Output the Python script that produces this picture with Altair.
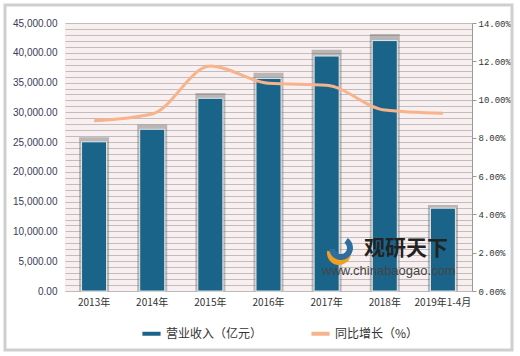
import altair as alt
import pandas as pd

years = ["2013年", "2014年", "2015年", "2016年", "2017年", "2018年", "2019年1-4月"]
revenue = [25050, 27150, 32350, 35700, 39450, 42050, 13900]
growth = [0.0890, 0.0925, 0.1175, 0.1085, 0.1075, 0.0945, 0.0928]
series_names = ["营业收入（亿元）", "同比增长（%）"]

df = pd.DataFrame({"year": years, "revenue": revenue, "growth": growth})
df["s_bar"] = series_names[0]
df["s_line"] = series_names[1]

BAR = "#1b6489"
LINE = "#f6b38c"

x_enc = alt.X("year:N", sort=years, title=None,
              scale=alt.Scale(paddingInner=0.57, paddingOuter=0.285),
              axis=alt.Axis(labelAngle=0, labelFontSize=10, labelColor="#333333",
                            domainColor="#bbbbbb", ticks=False, labelPadding=6,
                            labelFont="Noto Sans CJK SC"))

color_scale = alt.Scale(domain=series_names, range=[BAR, LINE])

left_axis = alt.Axis(values=list(range(0, 45001, 1000)),
                     labelExpr="datum.value % 5000 === 0 ? format(datum.value, ',.2f') : ''",
                     grid=True, gridColor="#c4bcbc", gridWidth=1, ticks=False,
                     domain=False, labelFontSize=10, labelColor="#3a3a5a",
                     labelPadding=8, labelFont="Liberation Sans")
left_scale = alt.Scale(domain=[0, 45000])

base = alt.Chart(df)

shadow = base.mark_bar(color="#6e6e6e", opacity=0.45, width=30).encode(
    x=x_enc,
    y=alt.Y("shadow_top:Q", title=None, scale=left_scale, axis=left_axis),
    y2=alt.value(268),
).transform_calculate(shadow_top="datum.revenue*1.02+250")

bars = base.mark_bar(width=25, stroke="white", strokeWidth=0.8).encode(
    x=x_enc,
    y=alt.Y("revenue:Q", title=None, scale=left_scale, axis=left_axis),
    color=alt.Color("s_bar:N", scale=color_scale,
                    legend=alt.Legend(title=None, orient="none", direction="horizontal",
                                      legendX=75, legendY=299, symbolType="stroke",
                                      symbolStrokeWidth=4, symbolSize=330,
                                      labelFontSize=12, labelColor="#333333",
                                      labelFont="Noto Sans CJK SC", columnPadding=40,
                                      symbolOffset=0, labelOffset=3)),
)

left = alt.layer(shadow, bars)

line = base.mark_line(strokeWidth=3, interpolate="monotone").encode(
    x=x_enc,
    y=alt.Y("growth:Q", title=None, scale=alt.Scale(domain=[0, 0.14]),
            axis=alt.Axis(orient="right", values=[0, 0.02, 0.04, 0.06, 0.08, 0.10, 0.12, 0.14],
                          format=".2%", grid=False, ticks=True, tickSize=4,
                          tickColor="#999999", domainColor="#999999",
                          labelFontSize=9, labelColor="#333333", labelPadding=2,
                          labelFont="Liberation Mono")),
    color=alt.Color("s_line:N", scale=color_scale, legend=None),
)

wm = alt.Chart(pd.DataFrame({"t": ["观研天下"]})).mark_text(
    fontSize=21, fontWeight="bold", color="#222222", font="Noto Sans CJK SC", align="left"
).encode(x=alt.value(299), y=alt.value(226), text="t:N")

wm2 = alt.Chart(pd.DataFrame({"t": ["www.chinabaogao.com"]})).mark_text(
    fontSize=13, color="#444444", font="Liberation Sans", align="left"
).encode(x=alt.value(257), y=alt.value(248), text="t:N")

logo1 = alt.Chart(pd.DataFrame({"t": [1]})).mark_arc(
    color="#2e6e9e", radius=12, radius2=6, theta=0.6, theta2=4.6
).encode(x=alt.value(276), y=alt.value(225))
logo2 = alt.Chart(pd.DataFrame({"t": [1]})).mark_arc(
    color="#f0a020", radius=12, radius2=5, theta=1.8, theta2=4.9
).encode(x=alt.value(274), y=alt.value(230))

frame = alt.Chart(pd.DataFrame({"t": [1]})).mark_rect(
    fill=None, stroke="#cfcfcf", strokeWidth=3
).encode(x=alt.value(-60), x2=alt.value(447), y=alt.value(-18), y2=alt.value(327))

chart = alt.layer(left, line, logo2, logo1, wm, wm2, frame).resolve_scale(
    y="independent"
).properties(
    width=407, height=268,
    padding={"left": 65, "top": 23, "right": 48, "bottom": 65},
    autosize="none",
    background="white",
).configure_view(fill="#f8f0f0", stroke=None)

chart.save("out.html", embed_options={"renderer": "svg", "actions": False})
